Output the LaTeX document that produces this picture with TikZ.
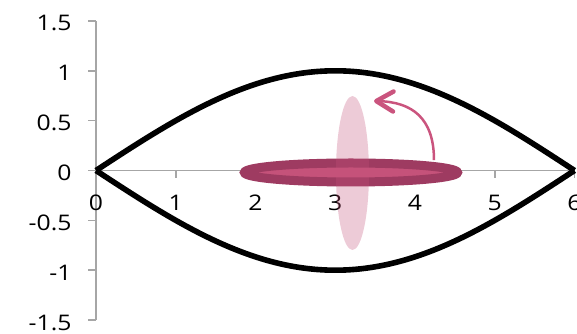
\documentclass[tikz,border=0pt]{standalone}
\usepackage{fontspec}
\setmainfont{Open Sans}[FakeStretch=1.15]
\usetikzlibrary{arrows.meta,shapes.geometric}
\definecolor{axgray}{RGB}{166,166,166}
\definecolor{pinkfill}{RGB}{197,82,122}
\definecolor{pinkdark}{RGB}{158,59,97}
\definecolor{pinkarrow}{RGB}{202,84,126}
\begin{document}
\begin{tikzpicture}[x=79.75bp, y=99.7bp,
  font=\fontsize{21.5bp}{24bp}\selectfont,
  axis/.style={draw=axgray, line width=1.5bp},
  ylab/.style={anchor=east, inner sep=0pt, yshift=-2.5bp},
  xlab/.style={anchor=center, inner sep=0pt},
  curve/.style={line width=5.6bp, black},
  disk/.style={ellipse, inner sep=0pt},
]
\useasboundingbox (-96bp,-163.5bp) rectangle (481bp,170.5bp);
% axes
\draw[axis] (0,0) -- (6,0);
\foreach \i in {1,...,6} \draw[axis] (\i,0) -- ++(0bp,-7bp);
\draw[axis] (0,-1.5) -- (0,1.5);
\foreach \v in {-1.5,-1,-0.5,0,0.5,1,1.5} \draw[axis] (0,\v) -- ++(-8bp,0bp);
% labels
\foreach \i in {0,...,6} \node[xlab] (xl\i) at (\i,-0.325) {\i};
\foreach \v/\n in {1.5/a,1/b,0.5/c,0/d,-0.5/e,-1/f,-1.5/g}
  \node[ylab] (yl\n) at ([xshift=-24.3bp]0,\v) {\v};
% curves
\draw[curve] plot[domain=0:6, samples=90, smooth] (\x,{sin(30*\x)});
\draw[curve] plot[domain=0:6, samples=90, smooth] (\x,{-sin(30*\x)});
% disks
\node[disk, draw=pinkdark, fill=pinkfill, line width=9bp,
      minimum width=213bp, minimum height=19bp] (hdisk) at (3.197,-0.02) {};
\node[disk, fill=pinkfill, fill opacity=0.3,
      minimum width=33bp, minimum height=154bp] (vdisk) at (3.216,-0.025) {};
% arrow
\coordinate (arrS) at (4.238,0.105);
\coordinate (arrE) at (3.486,0.697);
\draw[pinkarrow, line width=2.5bp,
      -{Straight Barb[length=17bp, width=20bp, line width=4.5bp, round]}]
  (arrS) .. controls (4.238,0.527) and (3.962,0.687) .. (arrE);
\end{tikzpicture}
\end{document}
